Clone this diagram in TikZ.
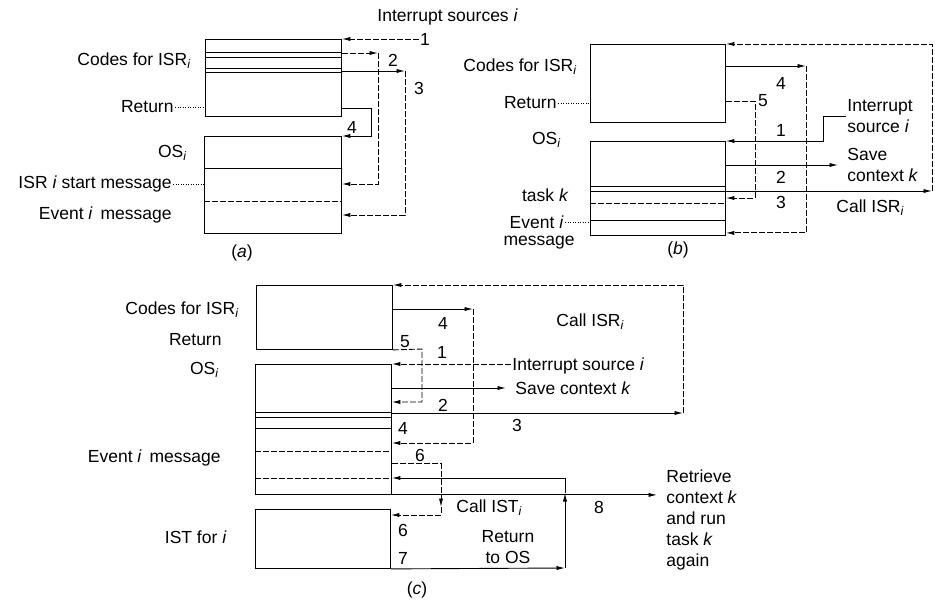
\documentclass[tikz,border=0pt]{standalone}
\usepackage{fontspec}
\setmainfont{Liberation Sans}
\usetikzlibrary{arrows.meta}

\begin{document}
\begin{tikzpicture}[x=1pt, y=-1pt, line width=0.9pt, >={Latex[length=8.5pt,width=4.2pt]},
  membox/.style={draw, rectangle, inner sep=0pt, anchor=north west},
  lbl/.style={inner sep=1pt, font=\fontsize{17.5}{21}\selectfont},
  dashy/.style={dash pattern=on 6pt off 2pt},
  leader/.style={line width=0.5pt, dotted},
  totext/.style={->, shorten >=8pt}]

  \useasboundingbox (0,0) rectangle (935,600);

  % PART (a): ISR entered directly
  \node[membox, minimum width=136pt, minimum height=77pt] (isrA) at (205,39) {};
  \node[membox, minimum width=137pt, minimum height=97pt] (osA) at (204,136) {};
  \foreach \yy in {52,57,68,72}
    \draw (isrA.west |- 0,\yy) -- (isrA.east |- 0,\yy);
  \draw (osA.west |- 0,168) -- (osA.east |- 0,168);
  \draw[dashy] (osA.west |- 0,201) -- (osA.east |- 0,201);

  \node[lbl, anchor=west] (srcA) at (376,17) {Interrupt sources \textit{i}};
  \node[lbl, anchor=east] (codA) at (192,61) {Codes for ISR\textsubscript{\itshape i}};
  \node[lbl, anchor=east] (retA) at (175,107) {Return};
  \node[lbl, anchor=east] (osLblA) at (188,153) {OS\textsubscript{\itshape i}};
  \node[lbl, anchor=east] (startA) at (173,184) {ISR \textit{i} start message};
  \node[lbl, anchor=east] (evA) at (173,215) {Event \textit{i}\, message};
  \node[lbl] (capA) at (242,253) {(\textit{a})};
  \draw[leader] (retA.east) -- (isrA.west |- retA.east);
  \draw[leader] (startA.east) -- (osA.west |- startA.east);

  \node[lbl] (n1A) at (425,39) {1};
  \node[lbl] (n2A) at (393,60) {2};
  \node[lbl] (n3A) at (419,88) {3};
  \node[lbl] (n4A) at (352,127) {4};

  \coordinate (k2A) at (378,53);
  \coordinate (k3A) at (405,71);
  \coordinate (k4A) at (371,108);
  \draw[->, dashy] (n1A.west) -- (isrA.north east);
  \draw[->, dashy] (isrA.east |- k2A) -- (k2A);
  \draw[->, dashy] (k2A) |- (osA.east |- startA);
  \draw[->] (isrA.east |- k3A) -- (k3A);
  \draw[->, dashy] (k3A) |- (osA.east |- evA);
  \draw[->] (isrA.east |- k4A) -- (k4A) |- (osA.north east);

  % PART (b): OS saves context k, then calls ISR
  \node[membox, minimum width=135pt, minimum height=78pt] (isrB) at (590,44) {};
  \node[membox, minimum width=135pt, minimum height=94pt] (osB) at (590,141) {};
  \foreach \yy in {186,191,220}
    \draw (osB.west |- 0,\yy) -- (osB.east |- 0,\yy);
  \draw[dashy] (osB.west |- 0,203) -- (osB.east |- 0,203);

  \node[lbl, anchor=east] (codB) at (578,67) {Codes for ISR\textsubscript{\itshape i}};
  \node[lbl, anchor=east] (retB) at (558,103) {Return};
  \node[lbl, anchor=east] (osLblB) at (562,140) {OS\textsubscript{\itshape i}};
  \node[lbl, anchor=east] (taskB) at (570,195) {task \textit{k}};
  \node[lbl, anchor=east] (evB) at (565,222) {Event \textit{i}};
  \node[lbl] (msgB) at (539,243) {message};
  \node[lbl] (capB) at (678,250) {(\textit{b})};
  \draw[leader] (retB.east) -- (isrB.west |- retB.east);
  \draw[leader] (evB.east) -- (osB.west |- evB.east);

  \node[lbl, anchor=west, align=left] (srcB) at (846,116) {Interrupt\\source \textit{i}};
  \node[lbl, anchor=west, align=left] (saveB) at (846,165) {Save\\context \textit{k}};
  \node[lbl, anchor=west] (callB) at (835,208) {Call ISR\textsubscript{\itshape i}};
  \node[lbl] (n4B) at (781,83) {4};
  \node[lbl] (n5B) at (763,101) {5};
  \node[lbl] (n1B) at (781,130) {1};
  \node[lbl] (n2B) at (781,177) {2};
  \node[lbl] (n3B) at (781,202) {3};

  \coordinate (k0B) at (932,191);
  \coordinate (k4B) at (806,66);
  \coordinate (k5B) at (755,101);
  \coordinate (k1B) at (823,141);
  \draw[->] (osB.east |- k0B) -- (k0B);
  \draw[->, dashy] (k0B) |- (isrB.north east);
  \draw[->] (isrB.east |- k4B) -- (k4B);
  \draw[->, dashy] (k4B) |- ([yshift=3pt]osB.south east);
  \draw[->, dashy] (isrB.east |- k5B) -- (k5B) |- (osB.east |- 0,198);
  \draw[->] (srcB.west) -| (k1B) -- (osB.north east);
  \draw[totext] (osB.east |- saveB) -- (saveB.west);

  % PART (c): OS calls ISR, ISR posts event, IST runs, OS returns to task k
  \node[membox, minimum width=136pt, minimum height=64pt] (isrC) at (256,285) {};
  \node[membox, minimum width=136pt, minimum height=130pt] (osC) at (255,364) {};
  \node[membox, minimum width=135pt, minimum height=59pt] (istC) at (255,509) {};
  \foreach \yy in {412,417,428}
    \draw (osC.west |- 0,\yy) -- (osC.east |- 0,\yy);
  \foreach \yy in {451,478}
    \draw[dashy] (osC.west |- 0,\yy) -- (osC.east |- 0,\yy);

  \node[lbl, anchor=east] (codC) at (240,310) {Codes for ISR\textsubscript{\itshape i}};
  \node[lbl, anchor=east] (retC) at (223,340) {Return};
  \node[lbl, anchor=east] (osLblC) at (220,370) {OS\textsubscript{\itshape i}};
  \node[lbl, anchor=east] (evC) at (222,458) {Event \textit{i}\, message};
  \node[lbl, anchor=east] (istLblC) at (228,537) {IST for \textit{i}};
  \node[lbl] (capC) at (417,590) {(\textit{c})};

  \node[lbl, anchor=west] (callC) at (555,322) {Call ISR\textsubscript{\itshape i}};
  \node[lbl, anchor=west] (srcC) at (511,366) {Interrupt source \textit{i}};
  \node[lbl, anchor=west] (saveC) at (514,388) {Save context \textit{k}};
  \node[lbl, anchor=west] (callIstC) at (455,508) {Call IST\textsubscript{\itshape i}};
  \node[lbl, align=center] (backC) at (508,547) {Return\\to OS};
  \node[lbl, anchor=west, align=left] (retrC) at (665,520) {Retrieve\\context \textit{k}\\and run\\task \textit{k}\\again};

  \node[lbl] (n4C) at (443,323) {4};
  \node[lbl] (n5C) at (405,342) {5};
  \node[lbl] (n1C) at (442,352) {1};
  \node[lbl] (n2C) at (443,405) {2};
  \node[lbl] (n3C) at (517,425) {3};
  \node[lbl] (n4bC) at (403,428) {4};
  \node[lbl] (n6C) at (420,455) {6};
  \node[lbl] (n6bC) at (403,530) {6};
  \node[lbl] (n7C) at (403,558) {7};
  \node[lbl] (n8C) at (599,507) {8};

  \coordinate (k0C) at (683,413);
  \coordinate (k4C) at (473,309);
  \coordinate (k5C) at (422,349);
  \coordinate (k6C) at (441,463);
  \coordinate (m6C) at (441,507);
  \coordinate (k7C) at (565,568);
  \coordinate (m7C) at (565,493);
  \draw[->] (osC.east |- k0C) -- (k0C);
  \draw[->, dashy] (k0C) |- (isrC.north east);
  \draw[->] (isrC.east |- k4C) -- (k4C);
  \draw[->, dashy] (k4C) |- (osC.east |- 0,443);
  \draw[->, dashy] (isrC.south east) -- (k5C) |- (osC.east |- 0,402);
  \draw[->, dashy] (srcC.west |- osC.north) -- (osC.north east);
  \draw[totext] (osC.east |- saveC) -- (saveC.west);
  \draw[dashy] (osC.east |- k6C) -- (k6C);
  \draw[->, dashy] (k6C) -- (m6C);
  \draw[->, dashy] (m6C) |- (istC.east |- 0,515);
  \draw[->] (istC.south east) -- (k7C);
  \draw[->] (k7C) -- (m7C);
  \draw[->] (m7C) |- (osC.east |- 0,478);
  \draw[totext] (osC.south east) -- (osC.south east -| retrC.west);

\end{tikzpicture}
\end{document}
